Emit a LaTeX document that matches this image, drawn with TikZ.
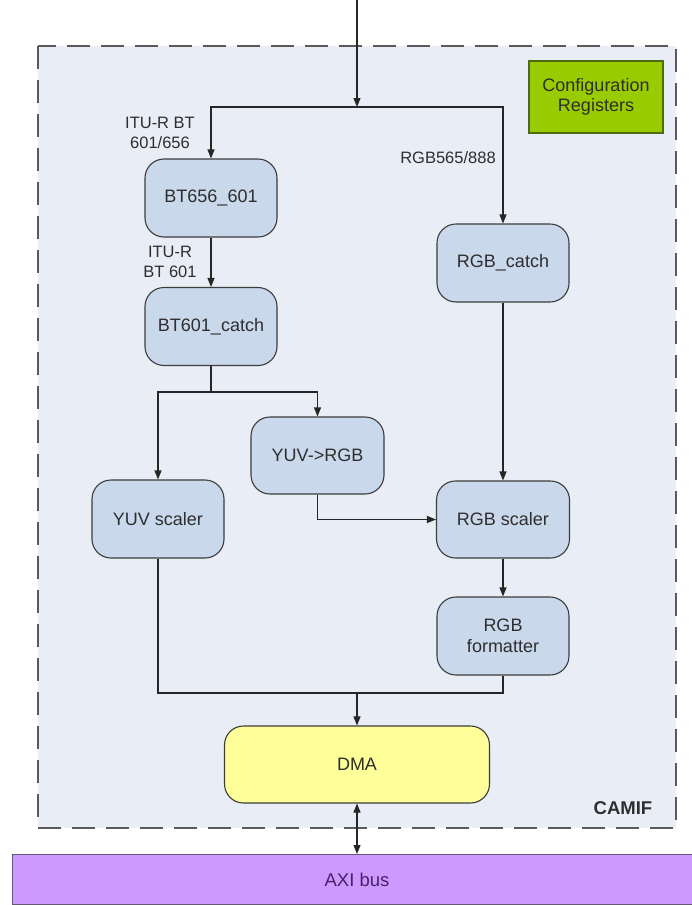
\documentclass[tikz,border=0pt]{standalone}
\usepackage{fontspec}
\setmainfont{Liberation Sans}
\usetikzlibrary{arrows.meta}
\definecolor{bgblue}{HTML}{E9EEF6}
\definecolor{boxblue}{HTML}{CAD8EB}
\definecolor{boxline}{HTML}{3C3C3C}
\definecolor{txt}{HTML}{2E2E2E}
\definecolor{cfggreen}{HTML}{99CC00}
\definecolor{cfgline}{HTML}{4F6A10}
\definecolor{dmayellow}{HTML}{FFFF99}
\definecolor{axipurple}{HTML}{CC99FF}
\definecolor{axitext}{HTML}{4A2068}
\definecolor{dashgray}{HTML}{5A5A5A}
\tikzset{
  blk/.style={draw=boxline, line width=1.1pt, fill=boxblue, rounded corners=19pt,
    minimum width=132pt, minimum height=78pt, inner sep=0pt, align=center,
    text=txt, font=\fontsize{18}{21}\selectfont},
  lbl/.style={inner sep=0pt, align=center, text=txt, font=\fontsize{16.5}{20}\selectfont},
  arr/.style={draw=black!85, line width=1.1pt, -{Triangle[length=9pt,width=7pt]}},
  ln/.style={draw=black!85, line width=1.1pt},
}
\begin{document}
\begin{tikzpicture}[x=1pt,y=-1pt]
\useasboundingbox (0,0) rectangle (692,905);
% container
\draw[dashgray, line width=1.8pt, dash pattern=on 23pt off 11pt, fill=bgblue] (38,46) rectangle (676,828);
\node[font=\bfseries\fontsize{18.5}{21}\selectfont, text=txt] (camif) at (623,808) {CAMIF};
% config
\node[draw=cfgline, line width=1.1pt, fill=cfggreen, minimum width=134pt, minimum height=72pt,
  inner sep=0pt, align=center, text=txt, font=\fontsize{18}{20}\selectfont] (cfg) at (596,97) {Configuration\\Registers};
% blocks
\node[blk] (bt656) at (211,198) {BT656\_601};
\node[blk] (bt601) at (211,326.5) {BT601\_catch};
\node[blk] (rgbc) at (503,263) {RGB\_catch};
\node[blk, minimum width=133pt, minimum height=77pt] (y2r) at (317.5,455.5) {YUV->RGB};
\node[blk] (yuvs) at (158,519) {YUV scaler};
\node[blk, minimum width=133pt, minimum height=77pt] (rgbs) at (503,519.5) {RGB scaler};
\node[blk] (rgbf) at (503,636) {RGB\\formatter};
\node[blk, fill=dmayellow, minimum width=265pt, minimum height=77pt] (dma) at (357,764.5) {DMA};
% AXI bus
\node[draw=boxline!70!axipurple, line width=1.1pt, fill=axipurple, minimum width=684pt, minimum height=50pt,
  inner sep=0pt, anchor=north west, text=axitext, font=\fontsize{18.5}{21}\selectfont] (axi) at (12,854) {};
\node[text=axitext, font=\fontsize{18.5}{21}\selectfont, inner sep=0pt] (axit) at (357,880) {AXI bus};
% labels
\node[lbl] (l1) at (160,133) {ITU-R BT\\601/656};
\node[lbl] (l2) at (170,261.5) {ITU-R\\BT 601};
\node[lbl] (l3) at (448,158) {RGB565/888};
% coordinates
\coordinate (in) at (357,0);
\coordinate (j1) at (357,107);
\coordinate (j2) at (211,392);
\coordinate (j3) at (357,693);
% connectors
\draw[arr] (in) -- (j1);
\draw[arr] (j1) -| (bt656);
\draw[arr] (j1) -| (rgbc);
\draw[arr] (bt656) -- (bt601);
\draw[ln] (bt601) -- (j2);
\draw[arr] (j2) -| (yuvs);
\draw[arr] (j2) -| (y2r);
\draw[arr] (y2r.south) |- (rgbs.west);
\draw[arr] (rgbc) -- (rgbs);
\draw[arr] (rgbs) -- (rgbf);
\draw[ln] (yuvs.south) |- (j3);
\draw[ln] (rgbf.south) |- (j3);
\draw[arr] (j3) -- (dma);
\draw[line width=1.1pt, draw=black!85, {Triangle[length=9pt,width=7pt]}-{Triangle[length=9pt,width=7pt]}] (dma.south) -- (dma.south |- axi.north);
\end{tikzpicture}
\end{document}
